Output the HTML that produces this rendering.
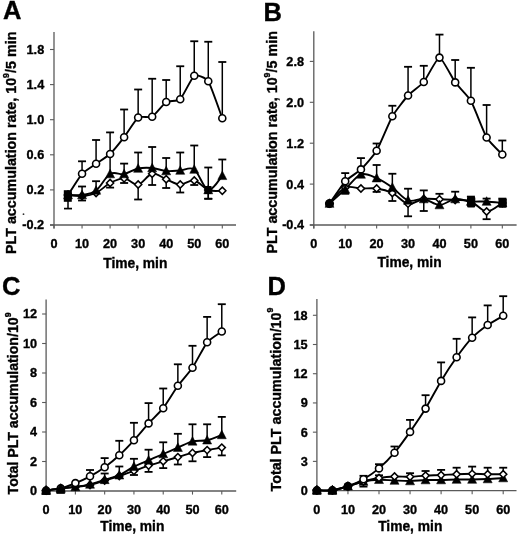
<!DOCTYPE html>
<html><head><meta charset="utf-8"><title>Platelet accumulation</title>
<style>html,body{margin:0;padding:0;background:#fff;width:520px;height:537px;overflow:hidden}
svg{display:block;filter:grayscale(1)}</style></head>
<body><svg width="520" height="537" viewBox="0 0 520 537">
<rect width="520" height="537" fill="#fff"/>
<line x1="54" y1="32" x2="54" y2="228.6" stroke="#5a5a5a" stroke-width="1.3"/>
<line x1="50" y1="225" x2="236" y2="225" stroke="#5a5a5a" stroke-width="1.3"/>
<line x1="54.00" y1="225" x2="54.00" y2="228.6" stroke="#5a5a5a" stroke-width="1.1"/>
<text x="54.00" y="248" font-size="12.7" text-anchor="middle" font-family="&apos;Liberation Sans&apos;, sans-serif" font-weight="bold" stroke="#000" stroke-width="0.35">0</text>
<line x1="82.05" y1="225" x2="82.05" y2="228.6" stroke="#5a5a5a" stroke-width="1.1"/>
<text x="82.05" y="248" font-size="12.7" text-anchor="middle" font-family="&apos;Liberation Sans&apos;, sans-serif" font-weight="bold" stroke="#000" stroke-width="0.35">10</text>
<line x1="110.10" y1="225" x2="110.10" y2="228.6" stroke="#5a5a5a" stroke-width="1.1"/>
<text x="110.10" y="248" font-size="12.7" text-anchor="middle" font-family="&apos;Liberation Sans&apos;, sans-serif" font-weight="bold" stroke="#000" stroke-width="0.35">20</text>
<line x1="138.15" y1="225" x2="138.15" y2="228.6" stroke="#5a5a5a" stroke-width="1.1"/>
<text x="138.15" y="248" font-size="12.7" text-anchor="middle" font-family="&apos;Liberation Sans&apos;, sans-serif" font-weight="bold" stroke="#000" stroke-width="0.35">30</text>
<line x1="166.20" y1="225" x2="166.20" y2="228.6" stroke="#5a5a5a" stroke-width="1.1"/>
<text x="166.20" y="248" font-size="12.7" text-anchor="middle" font-family="&apos;Liberation Sans&apos;, sans-serif" font-weight="bold" stroke="#000" stroke-width="0.35">40</text>
<line x1="194.25" y1="225" x2="194.25" y2="228.6" stroke="#5a5a5a" stroke-width="1.1"/>
<text x="194.25" y="248" font-size="12.7" text-anchor="middle" font-family="&apos;Liberation Sans&apos;, sans-serif" font-weight="bold" stroke="#000" stroke-width="0.35">50</text>
<line x1="222.30" y1="225" x2="222.30" y2="228.6" stroke="#5a5a5a" stroke-width="1.1"/>
<text x="222.30" y="248" font-size="12.7" text-anchor="middle" font-family="&apos;Liberation Sans&apos;, sans-serif" font-weight="bold" stroke="#000" stroke-width="0.35">60</text>
<line x1="50" y1="225.00" x2="54" y2="225.00" stroke="#5a5a5a" stroke-width="1.1"/>
<text x="44.2" y="229.40" font-size="12.7" text-anchor="end" font-family="&apos;Liberation Sans&apos;, sans-serif" font-weight="bold" stroke="#000" stroke-width="0.35">-0.2</text>
<line x1="50" y1="189.90" x2="54" y2="189.90" stroke="#5a5a5a" stroke-width="1.1"/>
<text x="44.2" y="194.30" font-size="12.7" text-anchor="end" font-family="&apos;Liberation Sans&apos;, sans-serif" font-weight="bold" stroke="#000" stroke-width="0.35">0.2</text>
<line x1="50" y1="154.80" x2="54" y2="154.80" stroke="#5a5a5a" stroke-width="1.1"/>
<text x="44.2" y="159.20" font-size="12.7" text-anchor="end" font-family="&apos;Liberation Sans&apos;, sans-serif" font-weight="bold" stroke="#000" stroke-width="0.35">0.6</text>
<line x1="50" y1="119.70" x2="54" y2="119.70" stroke="#5a5a5a" stroke-width="1.1"/>
<text x="44.2" y="124.10" font-size="12.7" text-anchor="end" font-family="&apos;Liberation Sans&apos;, sans-serif" font-weight="bold" stroke="#000" stroke-width="0.35">1.0</text>
<line x1="50" y1="84.60" x2="54" y2="84.60" stroke="#5a5a5a" stroke-width="1.1"/>
<text x="44.2" y="89.00" font-size="12.7" text-anchor="end" font-family="&apos;Liberation Sans&apos;, sans-serif" font-weight="bold" stroke="#000" stroke-width="0.35">1.4</text>
<line x1="50" y1="49.50" x2="54" y2="49.50" stroke="#5a5a5a" stroke-width="1.1"/>
<text x="44.2" y="53.90" font-size="12.7" text-anchor="end" font-family="&apos;Liberation Sans&apos;, sans-serif" font-weight="bold" stroke="#000" stroke-width="0.35">1.8</text>
<text x="135.3" y="267.5" font-size="13.8" text-anchor="middle" font-family="&apos;Liberation Sans&apos;, sans-serif" font-weight="bold" stroke="#000" stroke-width="0.35">Time, min</text>
<text transform="translate(16,254) rotate(-90)" font-size="14.3" font-family="&apos;Liberation Sans&apos;, sans-serif" font-weight="bold" stroke="#000" stroke-width="0.35">PLT accumulation rate, 10<tspan font-size="8.9" dy="-7.2">9</tspan><tspan dy="7.2">/5 min</tspan></text>
<text x="3" y="19" font-size="25.5" font-family="&apos;Liberation Sans&apos;, sans-serif" font-weight="bold" stroke="#000" stroke-width="0.35">A</text>
<line x1="82.05" y1="196.00" x2="82.05" y2="200.50" stroke="#000" stroke-width="1.5"/>
<line x1="78.05" y1="200.50" x2="86.05" y2="200.50" stroke="#000" stroke-width="1.8"/>
<line x1="110.10" y1="183.00" x2="110.10" y2="187.60" stroke="#000" stroke-width="1.5"/>
<line x1="106.10" y1="187.60" x2="114.10" y2="187.60" stroke="#000" stroke-width="1.8"/>
<line x1="124.12" y1="178.40" x2="124.12" y2="183.00" stroke="#000" stroke-width="1.5"/>
<line x1="120.12" y1="183.00" x2="128.12" y2="183.00" stroke="#000" stroke-width="1.8"/>
<line x1="138.15" y1="184.50" x2="138.15" y2="199.50" stroke="#000" stroke-width="1.5"/>
<line x1="134.15" y1="199.50" x2="142.15" y2="199.50" stroke="#000" stroke-width="1.8"/>
<line x1="152.18" y1="173.75" x2="152.18" y2="185.00" stroke="#000" stroke-width="1.5"/>
<line x1="148.18" y1="185.00" x2="156.18" y2="185.00" stroke="#000" stroke-width="1.8"/>
<line x1="166.20" y1="179.25" x2="166.20" y2="188.00" stroke="#000" stroke-width="1.5"/>
<line x1="162.20" y1="188.00" x2="170.20" y2="188.00" stroke="#000" stroke-width="1.8"/>
<line x1="180.23" y1="184.50" x2="180.23" y2="192.50" stroke="#000" stroke-width="1.5"/>
<line x1="176.23" y1="192.50" x2="184.23" y2="192.50" stroke="#000" stroke-width="1.8"/>
<line x1="194.25" y1="180.50" x2="194.25" y2="185.00" stroke="#000" stroke-width="1.5"/>
<line x1="190.25" y1="185.00" x2="198.25" y2="185.00" stroke="#000" stroke-width="1.8"/>
<line x1="208.28" y1="190.00" x2="208.28" y2="198.75" stroke="#000" stroke-width="1.5"/>
<line x1="204.28" y1="198.75" x2="212.28" y2="198.75" stroke="#000" stroke-width="1.8"/>
<line x1="82.05" y1="195.00" x2="82.05" y2="186.50" stroke="#000" stroke-width="1.5"/>
<line x1="78.05" y1="186.50" x2="86.05" y2="186.50" stroke="#000" stroke-width="1.8"/>
<line x1="96.08" y1="190.50" x2="96.08" y2="181.20" stroke="#000" stroke-width="1.5"/>
<line x1="92.08" y1="181.20" x2="100.08" y2="181.20" stroke="#000" stroke-width="1.8"/>
<line x1="110.10" y1="174.00" x2="110.10" y2="153.50" stroke="#000" stroke-width="1.5"/>
<line x1="106.10" y1="153.50" x2="114.10" y2="153.50" stroke="#000" stroke-width="1.8"/>
<line x1="124.12" y1="174.00" x2="124.12" y2="163.60" stroke="#000" stroke-width="1.5"/>
<line x1="120.12" y1="163.60" x2="128.12" y2="163.60" stroke="#000" stroke-width="1.8"/>
<line x1="138.15" y1="168.50" x2="138.15" y2="152.50" stroke="#000" stroke-width="1.5"/>
<line x1="134.15" y1="152.50" x2="142.15" y2="152.50" stroke="#000" stroke-width="1.8"/>
<line x1="152.18" y1="168.00" x2="152.18" y2="147.00" stroke="#000" stroke-width="1.5"/>
<line x1="148.18" y1="147.00" x2="156.18" y2="147.00" stroke="#000" stroke-width="1.8"/>
<line x1="166.20" y1="171.00" x2="166.20" y2="158.00" stroke="#000" stroke-width="1.5"/>
<line x1="162.20" y1="158.00" x2="170.20" y2="158.00" stroke="#000" stroke-width="1.8"/>
<line x1="180.23" y1="170.50" x2="180.23" y2="152.50" stroke="#000" stroke-width="1.5"/>
<line x1="176.23" y1="152.50" x2="184.23" y2="152.50" stroke="#000" stroke-width="1.8"/>
<line x1="194.25" y1="169.50" x2="194.25" y2="145.50" stroke="#000" stroke-width="1.5"/>
<line x1="190.25" y1="145.50" x2="198.25" y2="145.50" stroke="#000" stroke-width="1.8"/>
<line x1="208.28" y1="190.00" x2="208.28" y2="167.50" stroke="#000" stroke-width="1.5"/>
<line x1="204.28" y1="167.50" x2="212.28" y2="167.50" stroke="#000" stroke-width="1.8"/>
<line x1="222.30" y1="175.75" x2="222.30" y2="159.50" stroke="#000" stroke-width="1.5"/>
<line x1="218.30" y1="159.50" x2="226.30" y2="159.50" stroke="#000" stroke-width="1.8"/>
<line x1="82.05" y1="173.80" x2="82.05" y2="161.30" stroke="#000" stroke-width="1.5"/>
<line x1="78.05" y1="161.30" x2="86.05" y2="161.30" stroke="#000" stroke-width="1.8"/>
<line x1="96.08" y1="163.80" x2="96.08" y2="140.00" stroke="#000" stroke-width="1.5"/>
<line x1="92.08" y1="140.00" x2="100.08" y2="140.00" stroke="#000" stroke-width="1.8"/>
<line x1="110.10" y1="154.00" x2="110.10" y2="132.40" stroke="#000" stroke-width="1.5"/>
<line x1="106.10" y1="132.40" x2="114.10" y2="132.40" stroke="#000" stroke-width="1.8"/>
<line x1="124.12" y1="137.20" x2="124.12" y2="109.50" stroke="#000" stroke-width="1.5"/>
<line x1="120.12" y1="109.50" x2="128.12" y2="109.50" stroke="#000" stroke-width="1.8"/>
<line x1="138.15" y1="117.50" x2="138.15" y2="89.50" stroke="#000" stroke-width="1.5"/>
<line x1="134.15" y1="89.50" x2="142.15" y2="89.50" stroke="#000" stroke-width="1.8"/>
<line x1="152.18" y1="116.75" x2="152.18" y2="78.75" stroke="#000" stroke-width="1.5"/>
<line x1="148.18" y1="78.75" x2="156.18" y2="78.75" stroke="#000" stroke-width="1.8"/>
<line x1="166.20" y1="102.00" x2="166.20" y2="80.00" stroke="#000" stroke-width="1.5"/>
<line x1="162.20" y1="80.00" x2="170.20" y2="80.00" stroke="#000" stroke-width="1.8"/>
<line x1="180.23" y1="99.25" x2="180.23" y2="66.25" stroke="#000" stroke-width="1.5"/>
<line x1="176.23" y1="66.25" x2="184.23" y2="66.25" stroke="#000" stroke-width="1.8"/>
<line x1="194.25" y1="75.75" x2="194.25" y2="41.25" stroke="#000" stroke-width="1.5"/>
<line x1="190.25" y1="41.25" x2="198.25" y2="41.25" stroke="#000" stroke-width="1.8"/>
<line x1="208.28" y1="81.25" x2="208.28" y2="41.75" stroke="#000" stroke-width="1.5"/>
<line x1="204.28" y1="41.75" x2="212.28" y2="41.75" stroke="#000" stroke-width="1.8"/>
<line x1="222.30" y1="118.25" x2="222.30" y2="62.00" stroke="#000" stroke-width="1.5"/>
<line x1="218.30" y1="62.00" x2="226.30" y2="62.00" stroke="#000" stroke-width="1.8"/>
<path d="M68.03,195.00 C70.36,195.17 77.38,196.33 82.05,196.00 C86.72,195.67 91.40,195.17 96.08,193.00 C100.75,190.83 105.42,185.43 110.10,183.00 C114.77,180.57 119.45,178.15 124.12,178.40 C128.80,178.65 133.47,185.28 138.15,184.50 C142.83,183.72 147.50,174.62 152.18,173.75 C156.85,172.88 161.52,177.46 166.20,179.25 C170.88,181.04 175.55,184.29 180.23,184.50 C184.90,184.71 189.57,179.58 194.25,180.50 C198.93,181.42 203.60,188.29 208.28,190.00 C212.95,191.71 219.96,190.62 222.30,190.75" fill="none" stroke="#000" stroke-width="1.9" stroke-linejoin="round"/>
<path d="M68.03,195.00 C70.36,195.00 77.38,195.75 82.05,195.00 C86.72,194.25 91.40,194.00 96.08,190.50 C100.75,187.00 105.42,176.75 110.10,174.00 C114.77,171.25 119.45,174.92 124.12,174.00 C128.80,173.08 133.47,169.50 138.15,168.50 C142.83,167.50 147.50,167.58 152.18,168.00 C156.85,168.42 161.52,170.58 166.20,171.00 C170.88,171.42 175.55,170.75 180.23,170.50 C184.90,170.25 189.57,166.25 194.25,169.50 C198.93,172.75 203.60,188.96 208.28,190.00 C212.95,191.04 219.96,178.12 222.30,175.75" fill="none" stroke="#000" stroke-width="1.9" stroke-linejoin="round"/>
<path d="M68.03,195.00 C69.19,193.23 79.71,176.40 82.05,173.80 C84.39,171.20 93.74,165.45 96.08,163.80 C98.41,162.15 107.76,156.22 110.10,154.00 C112.44,151.78 121.79,140.24 124.12,137.20 C126.46,134.16 135.81,119.20 138.15,117.50 C140.49,115.80 149.84,118.04 152.18,116.75 C154.51,115.46 163.86,103.46 166.20,102.00 C168.54,100.54 177.89,101.44 180.23,99.25 C182.56,97.06 191.91,77.25 194.25,75.75 C196.59,74.25 205.94,77.71 208.28,81.25 C210.61,84.79 221.13,115.17 222.30,118.25" fill="none" stroke="#000" stroke-width="1.9" stroke-linejoin="round"/>
<path d="M68.03,191.40 L71.62,195.00 L68.03,198.60 L64.43,195.00Z" fill="#fff" stroke="#000" stroke-width="1.5"/>
<path d="M82.05,192.40 L85.65,196.00 L82.05,199.60 L78.45,196.00Z" fill="#fff" stroke="#000" stroke-width="1.5"/>
<path d="M96.08,189.40 L99.67,193.00 L96.08,196.60 L92.48,193.00Z" fill="#fff" stroke="#000" stroke-width="1.5"/>
<path d="M110.10,179.40 L113.70,183.00 L110.10,186.60 L106.50,183.00Z" fill="#fff" stroke="#000" stroke-width="1.5"/>
<path d="M124.12,174.80 L127.72,178.40 L124.12,182.00 L120.53,178.40Z" fill="#fff" stroke="#000" stroke-width="1.5"/>
<path d="M138.15,180.90 L141.75,184.50 L138.15,188.10 L134.55,184.50Z" fill="#fff" stroke="#000" stroke-width="1.5"/>
<path d="M152.18,170.15 L155.78,173.75 L152.18,177.35 L148.58,173.75Z" fill="#fff" stroke="#000" stroke-width="1.5"/>
<path d="M166.20,175.65 L169.80,179.25 L166.20,182.85 L162.60,179.25Z" fill="#fff" stroke="#000" stroke-width="1.5"/>
<path d="M180.23,180.90 L183.83,184.50 L180.23,188.10 L176.63,184.50Z" fill="#fff" stroke="#000" stroke-width="1.5"/>
<path d="M194.25,176.90 L197.85,180.50 L194.25,184.10 L190.65,180.50Z" fill="#fff" stroke="#000" stroke-width="1.5"/>
<path d="M208.28,186.40 L211.88,190.00 L208.28,193.60 L204.68,190.00Z" fill="#fff" stroke="#000" stroke-width="1.5"/>
<path d="M222.30,187.15 L225.90,190.75 L222.30,194.35 L218.70,190.75Z" fill="#fff" stroke="#000" stroke-width="1.5"/>
<path d="M68.03,190.20 L72.53,198.84 L63.53,198.84Z" fill="#000" stroke="#000" stroke-width="0.5"/>
<path d="M82.05,190.20 L86.55,198.84 L77.55,198.84Z" fill="#000" stroke="#000" stroke-width="0.5"/>
<path d="M96.08,185.70 L100.58,194.34 L91.58,194.34Z" fill="#000" stroke="#000" stroke-width="0.5"/>
<path d="M110.10,169.20 L114.60,177.84 L105.60,177.84Z" fill="#000" stroke="#000" stroke-width="0.5"/>
<path d="M124.12,169.20 L128.62,177.84 L119.62,177.84Z" fill="#000" stroke="#000" stroke-width="0.5"/>
<path d="M138.15,163.70 L142.65,172.34 L133.65,172.34Z" fill="#000" stroke="#000" stroke-width="0.5"/>
<path d="M152.18,163.20 L156.68,171.84 L147.68,171.84Z" fill="#000" stroke="#000" stroke-width="0.5"/>
<path d="M166.20,166.20 L170.70,174.84 L161.70,174.84Z" fill="#000" stroke="#000" stroke-width="0.5"/>
<path d="M180.23,165.70 L184.73,174.34 L175.73,174.34Z" fill="#000" stroke="#000" stroke-width="0.5"/>
<path d="M194.25,164.70 L198.75,173.34 L189.75,173.34Z" fill="#000" stroke="#000" stroke-width="0.5"/>
<path d="M208.28,185.20 L212.78,193.84 L203.78,193.84Z" fill="#000" stroke="#000" stroke-width="0.5"/>
<path d="M222.30,170.95 L226.80,179.59 L217.80,179.59Z" fill="#000" stroke="#000" stroke-width="0.5"/>
<circle cx="68.03" cy="195.00" r="3.5" fill="#fff" stroke="#000" stroke-width="1.6"/>
<circle cx="82.05" cy="173.80" r="3.5" fill="#fff" stroke="#000" stroke-width="1.6"/>
<circle cx="96.08" cy="163.80" r="3.5" fill="#fff" stroke="#000" stroke-width="1.6"/>
<circle cx="110.10" cy="154.00" r="3.5" fill="#fff" stroke="#000" stroke-width="1.6"/>
<circle cx="124.12" cy="137.20" r="3.5" fill="#fff" stroke="#000" stroke-width="1.6"/>
<circle cx="138.15" cy="117.50" r="3.5" fill="#fff" stroke="#000" stroke-width="1.6"/>
<circle cx="152.18" cy="116.75" r="3.5" fill="#fff" stroke="#000" stroke-width="1.6"/>
<circle cx="166.20" cy="102.00" r="3.5" fill="#fff" stroke="#000" stroke-width="1.6"/>
<circle cx="180.23" cy="99.25" r="3.5" fill="#fff" stroke="#000" stroke-width="1.6"/>
<circle cx="194.25" cy="75.75" r="3.5" fill="#fff" stroke="#000" stroke-width="1.6"/>
<circle cx="208.28" cy="81.25" r="3.5" fill="#fff" stroke="#000" stroke-width="1.6"/>
<circle cx="222.30" cy="118.25" r="3.5" fill="#fff" stroke="#000" stroke-width="1.6"/>
<rect x="63.8" y="190.2" width="8" height="11.6" fill="#000"/>
<line x1="68" y1="201" x2="68" y2="208.6" stroke="#000" stroke-width="1.5"/>
<line x1="64" y1="208.6" x2="72" y2="208.6" stroke="#000" stroke-width="1.7"/>
<rect x="204.5" y="186" width="7" height="8" fill="#000"/>
<line x1="208.3" y1="190" x2="208.3" y2="198.75" stroke="#000" stroke-width="1.5"/>
<line x1="204.3" y1="198.75" x2="212.3" y2="198.75" stroke="#000" stroke-width="1.7"/>
<circle cx="23.5" cy="214.2" r="0.9" fill="#333"/>
<line x1="313.8" y1="31.3" x2="313.8" y2="228.6" stroke="#5a5a5a" stroke-width="1.3"/>
<line x1="309.8" y1="225" x2="516.6" y2="225" stroke="#5a5a5a" stroke-width="1.3"/>
<line x1="313.80" y1="225" x2="313.80" y2="228.6" stroke="#5a5a5a" stroke-width="1.1"/>
<text x="313.80" y="247.5" font-size="12.7" text-anchor="middle" font-family="&apos;Liberation Sans&apos;, sans-serif" font-weight="bold" stroke="#000" stroke-width="0.35">0</text>
<line x1="345.22" y1="225" x2="345.22" y2="228.6" stroke="#5a5a5a" stroke-width="1.1"/>
<text x="345.22" y="247.5" font-size="12.7" text-anchor="middle" font-family="&apos;Liberation Sans&apos;, sans-serif" font-weight="bold" stroke="#000" stroke-width="0.35">10</text>
<line x1="376.64" y1="225" x2="376.64" y2="228.6" stroke="#5a5a5a" stroke-width="1.1"/>
<text x="376.64" y="247.5" font-size="12.7" text-anchor="middle" font-family="&apos;Liberation Sans&apos;, sans-serif" font-weight="bold" stroke="#000" stroke-width="0.35">20</text>
<line x1="408.06" y1="225" x2="408.06" y2="228.6" stroke="#5a5a5a" stroke-width="1.1"/>
<text x="408.06" y="247.5" font-size="12.7" text-anchor="middle" font-family="&apos;Liberation Sans&apos;, sans-serif" font-weight="bold" stroke="#000" stroke-width="0.35">30</text>
<line x1="439.48" y1="225" x2="439.48" y2="228.6" stroke="#5a5a5a" stroke-width="1.1"/>
<text x="439.48" y="247.5" font-size="12.7" text-anchor="middle" font-family="&apos;Liberation Sans&apos;, sans-serif" font-weight="bold" stroke="#000" stroke-width="0.35">40</text>
<line x1="470.90" y1="225" x2="470.90" y2="228.6" stroke="#5a5a5a" stroke-width="1.1"/>
<text x="470.90" y="247.5" font-size="12.7" text-anchor="middle" font-family="&apos;Liberation Sans&apos;, sans-serif" font-weight="bold" stroke="#000" stroke-width="0.35">50</text>
<line x1="502.32" y1="225" x2="502.32" y2="228.6" stroke="#5a5a5a" stroke-width="1.1"/>
<text x="502.32" y="247.5" font-size="12.7" text-anchor="middle" font-family="&apos;Liberation Sans&apos;, sans-serif" font-weight="bold" stroke="#000" stroke-width="0.35">60</text>
<line x1="309.8" y1="225.00" x2="313.8" y2="225.00" stroke="#5a5a5a" stroke-width="1.1"/>
<text x="304" y="229.40" font-size="12.7" text-anchor="end" font-family="&apos;Liberation Sans&apos;, sans-serif" font-weight="bold" stroke="#000" stroke-width="0.35">-0.4</text>
<line x1="309.8" y1="184.10" x2="313.8" y2="184.10" stroke="#5a5a5a" stroke-width="1.1"/>
<text x="304" y="188.50" font-size="12.7" text-anchor="end" font-family="&apos;Liberation Sans&apos;, sans-serif" font-weight="bold" stroke="#000" stroke-width="0.35">0.4</text>
<line x1="309.8" y1="143.20" x2="313.8" y2="143.20" stroke="#5a5a5a" stroke-width="1.1"/>
<text x="304" y="147.60" font-size="12.7" text-anchor="end" font-family="&apos;Liberation Sans&apos;, sans-serif" font-weight="bold" stroke="#000" stroke-width="0.35">1.2</text>
<line x1="309.8" y1="102.30" x2="313.8" y2="102.30" stroke="#5a5a5a" stroke-width="1.1"/>
<text x="304" y="106.70" font-size="12.7" text-anchor="end" font-family="&apos;Liberation Sans&apos;, sans-serif" font-weight="bold" stroke="#000" stroke-width="0.35">2.0</text>
<line x1="309.8" y1="61.40" x2="313.8" y2="61.40" stroke="#5a5a5a" stroke-width="1.1"/>
<text x="304" y="65.80" font-size="12.7" text-anchor="end" font-family="&apos;Liberation Sans&apos;, sans-serif" font-weight="bold" stroke="#000" stroke-width="0.35">2.8</text>
<text x="409.5" y="267.3" font-size="13.8" text-anchor="middle" font-family="&apos;Liberation Sans&apos;, sans-serif" font-weight="bold" stroke="#000" stroke-width="0.35">Time, min</text>
<text transform="translate(277,253.5) rotate(-90)" font-size="14.3" font-family="&apos;Liberation Sans&apos;, sans-serif" font-weight="bold" stroke="#000" stroke-width="0.35">PLT accumulation rate, 10<tspan font-size="8.9" dy="-7.2">9</tspan><tspan dy="7.2">/5 min</tspan></text>
<text x="263.5" y="20.6" font-size="25.5" font-family="&apos;Liberation Sans&apos;, sans-serif" font-weight="bold" stroke="#000" stroke-width="0.35">B</text>
<line x1="376.64" y1="188.50" x2="376.64" y2="191.90" stroke="#000" stroke-width="1.5"/>
<line x1="372.64" y1="191.90" x2="380.64" y2="191.90" stroke="#000" stroke-width="1.8"/>
<line x1="392.35" y1="193.00" x2="392.35" y2="201.00" stroke="#000" stroke-width="1.5"/>
<line x1="388.35" y1="201.00" x2="396.35" y2="201.00" stroke="#000" stroke-width="1.8"/>
<line x1="408.06" y1="203.70" x2="408.06" y2="216.30" stroke="#000" stroke-width="1.5"/>
<line x1="404.06" y1="216.30" x2="412.06" y2="216.30" stroke="#000" stroke-width="1.8"/>
<line x1="423.77" y1="199.00" x2="423.77" y2="211.00" stroke="#000" stroke-width="1.5"/>
<line x1="419.77" y1="211.00" x2="427.77" y2="211.00" stroke="#000" stroke-width="1.8"/>
<line x1="486.61" y1="211.50" x2="486.61" y2="219.20" stroke="#000" stroke-width="1.5"/>
<line x1="482.61" y1="219.20" x2="490.61" y2="219.20" stroke="#000" stroke-width="1.8"/>
<line x1="345.22" y1="189.40" x2="345.22" y2="193.80" stroke="#000" stroke-width="1.5"/>
<line x1="341.22" y1="193.80" x2="349.22" y2="193.80" stroke="#000" stroke-width="1.8"/>
<line x1="376.64" y1="178.10" x2="376.64" y2="165.00" stroke="#000" stroke-width="1.5"/>
<line x1="372.64" y1="165.00" x2="380.64" y2="165.00" stroke="#000" stroke-width="1.8"/>
<line x1="392.35" y1="187.50" x2="392.35" y2="173.75" stroke="#000" stroke-width="1.5"/>
<line x1="388.35" y1="173.75" x2="396.35" y2="173.75" stroke="#000" stroke-width="1.8"/>
<line x1="408.06" y1="200.40" x2="408.06" y2="188.70" stroke="#000" stroke-width="1.5"/>
<line x1="404.06" y1="188.70" x2="412.06" y2="188.70" stroke="#000" stroke-width="1.8"/>
<line x1="423.77" y1="199.00" x2="423.77" y2="190.40" stroke="#000" stroke-width="1.5"/>
<line x1="419.77" y1="190.40" x2="427.77" y2="190.40" stroke="#000" stroke-width="1.8"/>
<line x1="439.48" y1="205.00" x2="439.48" y2="193.80" stroke="#000" stroke-width="1.5"/>
<line x1="435.48" y1="193.80" x2="443.48" y2="193.80" stroke="#000" stroke-width="1.8"/>
<line x1="455.19" y1="199.00" x2="455.19" y2="191.70" stroke="#000" stroke-width="1.5"/>
<line x1="451.19" y1="191.70" x2="459.19" y2="191.70" stroke="#000" stroke-width="1.8"/>
<line x1="470.90" y1="201.50" x2="470.90" y2="196.60" stroke="#000" stroke-width="1.5"/>
<line x1="466.90" y1="196.60" x2="474.90" y2="196.60" stroke="#000" stroke-width="1.8"/>
<line x1="486.61" y1="201.50" x2="486.61" y2="198.60" stroke="#000" stroke-width="1.5"/>
<line x1="482.61" y1="198.60" x2="490.61" y2="198.60" stroke="#000" stroke-width="1.8"/>
<line x1="502.32" y1="203.00" x2="502.32" y2="198.60" stroke="#000" stroke-width="1.5"/>
<line x1="498.32" y1="198.60" x2="506.32" y2="198.60" stroke="#000" stroke-width="1.8"/>
<line x1="345.22" y1="181.30" x2="345.22" y2="173.10" stroke="#000" stroke-width="1.5"/>
<line x1="341.22" y1="173.10" x2="349.22" y2="173.10" stroke="#000" stroke-width="1.8"/>
<line x1="360.93" y1="169.40" x2="360.93" y2="158.10" stroke="#000" stroke-width="1.5"/>
<line x1="356.93" y1="158.10" x2="364.93" y2="158.10" stroke="#000" stroke-width="1.8"/>
<line x1="376.64" y1="150.80" x2="376.64" y2="143.50" stroke="#000" stroke-width="1.5"/>
<line x1="372.64" y1="143.50" x2="380.64" y2="143.50" stroke="#000" stroke-width="1.8"/>
<line x1="392.35" y1="116.25" x2="392.35" y2="105.75" stroke="#000" stroke-width="1.5"/>
<line x1="388.35" y1="105.75" x2="396.35" y2="105.75" stroke="#000" stroke-width="1.8"/>
<line x1="408.06" y1="95.50" x2="408.06" y2="66.80" stroke="#000" stroke-width="1.5"/>
<line x1="404.06" y1="66.80" x2="412.06" y2="66.80" stroke="#000" stroke-width="1.8"/>
<line x1="423.77" y1="82.00" x2="423.77" y2="65.80" stroke="#000" stroke-width="1.5"/>
<line x1="419.77" y1="65.80" x2="427.77" y2="65.80" stroke="#000" stroke-width="1.8"/>
<line x1="439.48" y1="57.60" x2="439.48" y2="34.60" stroke="#000" stroke-width="1.5"/>
<line x1="435.48" y1="34.60" x2="443.48" y2="34.60" stroke="#000" stroke-width="1.8"/>
<line x1="455.19" y1="82.40" x2="455.19" y2="60.00" stroke="#000" stroke-width="1.5"/>
<line x1="451.19" y1="60.00" x2="459.19" y2="60.00" stroke="#000" stroke-width="1.8"/>
<line x1="470.90" y1="100.80" x2="470.90" y2="67.80" stroke="#000" stroke-width="1.5"/>
<line x1="466.90" y1="67.80" x2="474.90" y2="67.80" stroke="#000" stroke-width="1.8"/>
<line x1="486.61" y1="137.50" x2="486.61" y2="105.00" stroke="#000" stroke-width="1.5"/>
<line x1="482.61" y1="105.00" x2="490.61" y2="105.00" stroke="#000" stroke-width="1.8"/>
<line x1="502.32" y1="154.50" x2="502.32" y2="140.50" stroke="#000" stroke-width="1.5"/>
<line x1="498.32" y1="140.50" x2="506.32" y2="140.50" stroke="#000" stroke-width="1.8"/>
<path d="M329.51,203.50 C332.13,200.87 339.98,190.20 345.22,187.70 C350.46,185.20 355.69,188.37 360.93,188.50 C366.17,188.63 371.40,187.75 376.64,188.50 C381.88,189.25 387.11,190.47 392.35,193.00 C397.59,195.53 402.82,202.70 408.06,203.70 C413.30,204.70 418.53,199.73 423.77,199.00 C429.01,198.27 434.24,199.13 439.48,199.30 C444.72,199.47 449.95,199.63 455.19,200.00 C460.43,200.37 465.66,199.58 470.90,201.50 C476.14,203.42 481.37,211.25 486.61,211.50 C491.85,211.75 499.70,204.42 502.32,203.00" fill="none" stroke="#000" stroke-width="1.9" stroke-linejoin="round"/>
<path d="M329.51,203.50 C332.13,201.15 339.98,194.25 345.22,189.40 C350.46,184.55 355.69,176.28 360.93,174.40 C366.17,172.52 371.40,175.92 376.64,178.10 C381.88,180.28 387.11,183.78 392.35,187.50 C397.59,191.22 402.82,198.48 408.06,200.40 C413.30,202.32 418.53,198.23 423.77,199.00 C429.01,199.77 434.24,205.00 439.48,205.00 C444.72,205.00 449.95,199.58 455.19,199.00 C460.43,198.42 465.66,201.08 470.90,201.50 C476.14,201.92 481.37,201.25 486.61,201.50 C491.85,201.75 499.70,202.75 502.32,203.00" fill="none" stroke="#000" stroke-width="1.9" stroke-linejoin="round"/>
<path d="M329.51,203.50 C330.82,201.65 342.60,184.14 345.22,181.30 C347.84,178.46 358.31,171.94 360.93,169.40 C363.55,166.86 374.02,155.23 376.64,150.80 C379.26,146.37 389.73,120.86 392.35,116.25 C394.97,111.64 405.44,98.35 408.06,95.50 C410.68,92.65 421.15,85.16 423.77,82.00 C426.39,78.84 436.86,57.57 439.48,57.60 C442.10,57.63 452.57,78.80 455.19,82.40 C457.81,86.00 468.28,96.21 470.90,100.80 C473.52,105.39 483.99,133.03 486.61,137.50 C489.23,141.97 501.01,153.08 502.32,154.50" fill="none" stroke="#000" stroke-width="1.9" stroke-linejoin="round"/>
<path d="M329.51,199.90 L333.11,203.50 L329.51,207.10 L325.91,203.50Z" fill="#fff" stroke="#000" stroke-width="1.5"/>
<path d="M345.22,184.10 L348.82,187.70 L345.22,191.30 L341.62,187.70Z" fill="#fff" stroke="#000" stroke-width="1.5"/>
<path d="M360.93,184.90 L364.53,188.50 L360.93,192.10 L357.33,188.50Z" fill="#fff" stroke="#000" stroke-width="1.5"/>
<path d="M376.64,184.90 L380.24,188.50 L376.64,192.10 L373.04,188.50Z" fill="#fff" stroke="#000" stroke-width="1.5"/>
<path d="M392.35,189.40 L395.95,193.00 L392.35,196.60 L388.75,193.00Z" fill="#fff" stroke="#000" stroke-width="1.5"/>
<path d="M408.06,200.10 L411.66,203.70 L408.06,207.30 L404.46,203.70Z" fill="#fff" stroke="#000" stroke-width="1.5"/>
<path d="M423.77,195.40 L427.37,199.00 L423.77,202.60 L420.17,199.00Z" fill="#fff" stroke="#000" stroke-width="1.5"/>
<path d="M439.48,195.70 L443.08,199.30 L439.48,202.90 L435.88,199.30Z" fill="#fff" stroke="#000" stroke-width="1.5"/>
<path d="M455.19,196.40 L458.79,200.00 L455.19,203.60 L451.59,200.00Z" fill="#fff" stroke="#000" stroke-width="1.5"/>
<path d="M470.90,197.90 L474.50,201.50 L470.90,205.10 L467.30,201.50Z" fill="#fff" stroke="#000" stroke-width="1.5"/>
<path d="M486.61,207.90 L490.21,211.50 L486.61,215.10 L483.01,211.50Z" fill="#fff" stroke="#000" stroke-width="1.5"/>
<path d="M502.32,199.40 L505.92,203.00 L502.32,206.60 L498.72,203.00Z" fill="#fff" stroke="#000" stroke-width="1.5"/>
<path d="M329.51,198.70 L334.01,207.34 L325.01,207.34Z" fill="#000" stroke="#000" stroke-width="0.5"/>
<path d="M345.22,184.60 L349.72,193.24 L340.72,193.24Z" fill="#000" stroke="#000" stroke-width="0.5"/>
<path d="M360.93,169.60 L365.43,178.24 L356.43,178.24Z" fill="#000" stroke="#000" stroke-width="0.5"/>
<path d="M376.64,173.30 L381.14,181.94 L372.14,181.94Z" fill="#000" stroke="#000" stroke-width="0.5"/>
<path d="M392.35,182.70 L396.85,191.34 L387.85,191.34Z" fill="#000" stroke="#000" stroke-width="0.5"/>
<path d="M408.06,195.60 L412.56,204.24 L403.56,204.24Z" fill="#000" stroke="#000" stroke-width="0.5"/>
<path d="M423.77,194.20 L428.27,202.84 L419.27,202.84Z" fill="#000" stroke="#000" stroke-width="0.5"/>
<path d="M439.48,200.20 L443.98,208.84 L434.98,208.84Z" fill="#000" stroke="#000" stroke-width="0.5"/>
<path d="M455.19,194.20 L459.69,202.84 L450.69,202.84Z" fill="#000" stroke="#000" stroke-width="0.5"/>
<path d="M470.90,196.70 L475.40,205.34 L466.40,205.34Z" fill="#000" stroke="#000" stroke-width="0.5"/>
<path d="M486.61,196.70 L491.11,205.34 L482.11,205.34Z" fill="#000" stroke="#000" stroke-width="0.5"/>
<path d="M502.32,198.20 L506.82,206.84 L497.82,206.84Z" fill="#000" stroke="#000" stroke-width="0.5"/>
<circle cx="329.51" cy="203.50" r="3.5" fill="#fff" stroke="#000" stroke-width="1.6"/>
<circle cx="345.22" cy="181.30" r="3.5" fill="#fff" stroke="#000" stroke-width="1.6"/>
<circle cx="360.93" cy="169.40" r="3.5" fill="#fff" stroke="#000" stroke-width="1.6"/>
<circle cx="376.64" cy="150.80" r="3.5" fill="#fff" stroke="#000" stroke-width="1.6"/>
<circle cx="392.35" cy="116.25" r="3.5" fill="#fff" stroke="#000" stroke-width="1.6"/>
<circle cx="408.06" cy="95.50" r="3.5" fill="#fff" stroke="#000" stroke-width="1.6"/>
<circle cx="423.77" cy="82.00" r="3.5" fill="#fff" stroke="#000" stroke-width="1.6"/>
<circle cx="439.48" cy="57.60" r="3.5" fill="#fff" stroke="#000" stroke-width="1.6"/>
<circle cx="455.19" cy="82.40" r="3.5" fill="#fff" stroke="#000" stroke-width="1.6"/>
<circle cx="470.90" cy="100.80" r="3.5" fill="#fff" stroke="#000" stroke-width="1.6"/>
<circle cx="486.61" cy="137.50" r="3.5" fill="#fff" stroke="#000" stroke-width="1.6"/>
<circle cx="502.32" cy="154.50" r="3.5" fill="#fff" stroke="#000" stroke-width="1.6"/>
<circle cx="329.4" cy="203.7" r="4.4" fill="#000"/>
<rect x="467" y="196.5" width="8.3" height="11" rx="1.5" fill="#000"/>
<rect x="498.5" y="197.9" width="8.3" height="9.9" rx="1.5" fill="#000"/>
<line x1="46.1" y1="299.4" x2="46.1" y2="494.6" stroke="#5a5a5a" stroke-width="1.3"/>
<line x1="42.1" y1="491" x2="236.2" y2="491" stroke="#5a5a5a" stroke-width="1.3"/>
<line x1="46.10" y1="491" x2="46.10" y2="494.6" stroke="#5a5a5a" stroke-width="1.1"/>
<text x="46.10" y="514.2" font-size="12.7" text-anchor="middle" font-family="&apos;Liberation Sans&apos;, sans-serif" font-weight="bold" stroke="#000" stroke-width="0.35">0</text>
<line x1="75.38" y1="491" x2="75.38" y2="494.6" stroke="#5a5a5a" stroke-width="1.1"/>
<text x="75.38" y="514.2" font-size="12.7" text-anchor="middle" font-family="&apos;Liberation Sans&apos;, sans-serif" font-weight="bold" stroke="#000" stroke-width="0.35">10</text>
<line x1="104.66" y1="491" x2="104.66" y2="494.6" stroke="#5a5a5a" stroke-width="1.1"/>
<text x="104.66" y="514.2" font-size="12.7" text-anchor="middle" font-family="&apos;Liberation Sans&apos;, sans-serif" font-weight="bold" stroke="#000" stroke-width="0.35">20</text>
<line x1="133.94" y1="491" x2="133.94" y2="494.6" stroke="#5a5a5a" stroke-width="1.1"/>
<text x="133.94" y="514.2" font-size="12.7" text-anchor="middle" font-family="&apos;Liberation Sans&apos;, sans-serif" font-weight="bold" stroke="#000" stroke-width="0.35">30</text>
<line x1="163.22" y1="491" x2="163.22" y2="494.6" stroke="#5a5a5a" stroke-width="1.1"/>
<text x="163.22" y="514.2" font-size="12.7" text-anchor="middle" font-family="&apos;Liberation Sans&apos;, sans-serif" font-weight="bold" stroke="#000" stroke-width="0.35">40</text>
<line x1="192.50" y1="491" x2="192.50" y2="494.6" stroke="#5a5a5a" stroke-width="1.1"/>
<text x="192.50" y="514.2" font-size="12.7" text-anchor="middle" font-family="&apos;Liberation Sans&apos;, sans-serif" font-weight="bold" stroke="#000" stroke-width="0.35">50</text>
<line x1="221.78" y1="491" x2="221.78" y2="494.6" stroke="#5a5a5a" stroke-width="1.1"/>
<text x="221.78" y="514.2" font-size="12.7" text-anchor="middle" font-family="&apos;Liberation Sans&apos;, sans-serif" font-weight="bold" stroke="#000" stroke-width="0.35">60</text>
<line x1="42.1" y1="491.00" x2="46.1" y2="491.00" stroke="#5a5a5a" stroke-width="1.1"/>
<text x="37" y="495.40" font-size="12.7" text-anchor="end" font-family="&apos;Liberation Sans&apos;, sans-serif" font-weight="bold" stroke="#000" stroke-width="0.35">0</text>
<line x1="42.1" y1="461.50" x2="46.1" y2="461.50" stroke="#5a5a5a" stroke-width="1.1"/>
<text x="37" y="465.90" font-size="12.7" text-anchor="end" font-family="&apos;Liberation Sans&apos;, sans-serif" font-weight="bold" stroke="#000" stroke-width="0.35">2</text>
<line x1="42.1" y1="432.00" x2="46.1" y2="432.00" stroke="#5a5a5a" stroke-width="1.1"/>
<text x="37" y="436.40" font-size="12.7" text-anchor="end" font-family="&apos;Liberation Sans&apos;, sans-serif" font-weight="bold" stroke="#000" stroke-width="0.35">4</text>
<line x1="42.1" y1="402.50" x2="46.1" y2="402.50" stroke="#5a5a5a" stroke-width="1.1"/>
<text x="37" y="406.90" font-size="12.7" text-anchor="end" font-family="&apos;Liberation Sans&apos;, sans-serif" font-weight="bold" stroke="#000" stroke-width="0.35">6</text>
<line x1="42.1" y1="373.00" x2="46.1" y2="373.00" stroke="#5a5a5a" stroke-width="1.1"/>
<text x="37" y="377.40" font-size="12.7" text-anchor="end" font-family="&apos;Liberation Sans&apos;, sans-serif" font-weight="bold" stroke="#000" stroke-width="0.35">8</text>
<line x1="42.1" y1="343.50" x2="46.1" y2="343.50" stroke="#5a5a5a" stroke-width="1.1"/>
<text x="37" y="347.90" font-size="12.7" text-anchor="end" font-family="&apos;Liberation Sans&apos;, sans-serif" font-weight="bold" stroke="#000" stroke-width="0.35">10</text>
<line x1="42.1" y1="314.00" x2="46.1" y2="314.00" stroke="#5a5a5a" stroke-width="1.1"/>
<text x="37" y="318.40" font-size="12.7" text-anchor="end" font-family="&apos;Liberation Sans&apos;, sans-serif" font-weight="bold" stroke="#000" stroke-width="0.35">12</text>
<text x="132.3" y="531.3" font-size="13.8" text-anchor="middle" font-family="&apos;Liberation Sans&apos;, sans-serif" font-weight="bold" stroke="#000" stroke-width="0.35">Time, min</text>
<text transform="translate(17.7,494.4) rotate(-90)" font-size="14.15" font-family="&apos;Liberation Sans&apos;, sans-serif" font-weight="bold" stroke="#000" stroke-width="0.35">Total PLT accumulation/10<tspan font-size="8.8" dy="-7.1">9</tspan><tspan dy="7.1"></tspan></text>
<text x="2" y="295" font-size="25.5" font-family="&apos;Liberation Sans&apos;, sans-serif" font-weight="bold" stroke="#000" stroke-width="0.35">C</text>
<line x1="133.94" y1="470.90" x2="133.94" y2="475.00" stroke="#000" stroke-width="1.5"/>
<line x1="129.94" y1="475.00" x2="137.94" y2="475.00" stroke="#000" stroke-width="1.8"/>
<line x1="148.58" y1="465.60" x2="148.58" y2="471.90" stroke="#000" stroke-width="1.5"/>
<line x1="144.58" y1="471.90" x2="152.58" y2="471.90" stroke="#000" stroke-width="1.8"/>
<line x1="163.22" y1="461.30" x2="163.22" y2="468.10" stroke="#000" stroke-width="1.5"/>
<line x1="159.22" y1="468.10" x2="167.22" y2="468.10" stroke="#000" stroke-width="1.8"/>
<line x1="177.86" y1="457.10" x2="177.86" y2="464.50" stroke="#000" stroke-width="1.5"/>
<line x1="173.86" y1="464.50" x2="181.86" y2="464.50" stroke="#000" stroke-width="1.8"/>
<line x1="192.50" y1="452.90" x2="192.50" y2="461.30" stroke="#000" stroke-width="1.5"/>
<line x1="188.50" y1="461.30" x2="196.50" y2="461.30" stroke="#000" stroke-width="1.8"/>
<line x1="207.14" y1="450.10" x2="207.14" y2="457.10" stroke="#000" stroke-width="1.5"/>
<line x1="203.14" y1="457.10" x2="211.14" y2="457.10" stroke="#000" stroke-width="1.8"/>
<line x1="221.78" y1="447.60" x2="221.78" y2="455.40" stroke="#000" stroke-width="1.5"/>
<line x1="217.78" y1="455.40" x2="225.78" y2="455.40" stroke="#000" stroke-width="1.8"/>
<line x1="104.66" y1="479.80" x2="104.66" y2="473.50" stroke="#000" stroke-width="1.5"/>
<line x1="100.66" y1="473.50" x2="108.66" y2="473.50" stroke="#000" stroke-width="1.8"/>
<line x1="119.30" y1="475.20" x2="119.30" y2="466.50" stroke="#000" stroke-width="1.5"/>
<line x1="115.30" y1="466.50" x2="123.30" y2="466.50" stroke="#000" stroke-width="1.8"/>
<line x1="133.94" y1="466.60" x2="133.94" y2="458.80" stroke="#000" stroke-width="1.5"/>
<line x1="129.94" y1="458.80" x2="137.94" y2="458.80" stroke="#000" stroke-width="1.8"/>
<line x1="148.58" y1="460.30" x2="148.58" y2="449.70" stroke="#000" stroke-width="1.5"/>
<line x1="144.58" y1="449.70" x2="152.58" y2="449.70" stroke="#000" stroke-width="1.8"/>
<line x1="163.22" y1="454.00" x2="163.22" y2="442.30" stroke="#000" stroke-width="1.5"/>
<line x1="159.22" y1="442.30" x2="167.22" y2="442.30" stroke="#000" stroke-width="1.8"/>
<line x1="177.86" y1="447.60" x2="177.86" y2="433.80" stroke="#000" stroke-width="1.5"/>
<line x1="173.86" y1="433.80" x2="181.86" y2="433.80" stroke="#000" stroke-width="1.8"/>
<line x1="192.50" y1="441.30" x2="192.50" y2="424.30" stroke="#000" stroke-width="1.5"/>
<line x1="188.50" y1="424.30" x2="196.50" y2="424.30" stroke="#000" stroke-width="1.8"/>
<line x1="207.14" y1="440.20" x2="207.14" y2="424.30" stroke="#000" stroke-width="1.5"/>
<line x1="203.14" y1="424.30" x2="211.14" y2="424.30" stroke="#000" stroke-width="1.8"/>
<line x1="221.78" y1="434.90" x2="221.78" y2="416.90" stroke="#000" stroke-width="1.5"/>
<line x1="217.78" y1="416.90" x2="225.78" y2="416.90" stroke="#000" stroke-width="1.8"/>
<line x1="90.02" y1="476.30" x2="90.02" y2="470.00" stroke="#000" stroke-width="1.5"/>
<line x1="86.02" y1="470.00" x2="94.02" y2="470.00" stroke="#000" stroke-width="1.8"/>
<line x1="104.66" y1="467.20" x2="104.66" y2="458.10" stroke="#000" stroke-width="1.5"/>
<line x1="100.66" y1="458.10" x2="108.66" y2="458.10" stroke="#000" stroke-width="1.8"/>
<line x1="119.30" y1="455.20" x2="119.30" y2="440.80" stroke="#000" stroke-width="1.5"/>
<line x1="115.30" y1="440.80" x2="123.30" y2="440.80" stroke="#000" stroke-width="1.8"/>
<line x1="133.94" y1="440.30" x2="133.94" y2="422.80" stroke="#000" stroke-width="1.5"/>
<line x1="129.94" y1="422.80" x2="137.94" y2="422.80" stroke="#000" stroke-width="1.8"/>
<line x1="148.58" y1="423.40" x2="148.58" y2="403.10" stroke="#000" stroke-width="1.5"/>
<line x1="144.58" y1="403.10" x2="152.58" y2="403.10" stroke="#000" stroke-width="1.8"/>
<line x1="163.22" y1="408.20" x2="163.22" y2="388.50" stroke="#000" stroke-width="1.5"/>
<line x1="159.22" y1="388.50" x2="167.22" y2="388.50" stroke="#000" stroke-width="1.8"/>
<line x1="177.86" y1="385.80" x2="177.86" y2="364.30" stroke="#000" stroke-width="1.5"/>
<line x1="173.86" y1="364.30" x2="181.86" y2="364.30" stroke="#000" stroke-width="1.8"/>
<line x1="192.50" y1="367.70" x2="192.50" y2="345.80" stroke="#000" stroke-width="1.5"/>
<line x1="188.50" y1="345.80" x2="196.50" y2="345.80" stroke="#000" stroke-width="1.8"/>
<line x1="207.14" y1="342.30" x2="207.14" y2="316.90" stroke="#000" stroke-width="1.5"/>
<line x1="203.14" y1="316.90" x2="211.14" y2="316.90" stroke="#000" stroke-width="1.8"/>
<line x1="221.78" y1="331.50" x2="221.78" y2="304.20" stroke="#000" stroke-width="1.5"/>
<line x1="217.78" y1="304.20" x2="225.78" y2="304.20" stroke="#000" stroke-width="1.8"/>
<path d="M46.10,490.50 C48.54,490.15 55.86,489.00 60.74,488.40 C65.62,487.80 70.50,487.47 75.38,486.90 C80.26,486.33 85.14,486.07 90.02,485.00 C94.90,483.93 99.78,482.00 104.66,480.50 C109.54,479.00 114.42,477.60 119.30,476.00 C124.18,474.40 129.06,472.63 133.94,470.90 C138.82,469.17 143.70,467.20 148.58,465.60 C153.46,464.00 158.34,462.72 163.22,461.30 C168.10,459.88 172.98,458.50 177.86,457.10 C182.74,455.70 187.62,454.07 192.50,452.90 C197.38,451.73 202.26,450.98 207.14,450.10 C212.02,449.22 219.34,448.02 221.78,447.60" fill="none" stroke="#000" stroke-width="1.9" stroke-linejoin="round"/>
<path d="M46.10,490.50 C48.54,490.15 55.86,489.00 60.74,488.40 C65.62,487.80 70.50,487.57 75.38,486.90 C80.26,486.23 85.14,485.58 90.02,484.40 C94.90,483.22 99.78,481.33 104.66,479.80 C109.54,478.27 114.42,477.40 119.30,475.20 C124.18,473.00 129.06,469.08 133.94,466.60 C138.82,464.12 143.70,462.40 148.58,460.30 C153.46,458.20 158.34,456.12 163.22,454.00 C168.10,451.88 172.98,449.72 177.86,447.60 C182.74,445.48 187.62,442.53 192.50,441.30 C197.38,440.07 202.26,441.27 207.14,440.20 C212.02,439.13 219.34,435.78 221.78,434.90" fill="none" stroke="#000" stroke-width="1.9" stroke-linejoin="round"/>
<path d="M46.10,490.50 C47.32,490.32 58.30,489.02 60.74,488.40 C63.18,487.78 72.94,484.11 75.38,483.10 C77.82,482.09 87.58,477.62 90.02,476.30 C92.46,474.98 102.22,468.96 104.66,467.20 C107.10,465.44 116.86,457.44 119.30,455.20 C121.74,452.96 131.50,442.95 133.94,440.30 C136.38,437.65 146.14,426.07 148.58,423.40 C151.02,420.72 160.78,411.33 163.22,408.20 C165.66,405.07 175.42,389.18 177.86,385.80 C180.30,382.43 190.06,371.32 192.50,367.70 C194.94,364.07 204.70,345.32 207.14,342.30 C209.58,339.28 220.56,332.40 221.78,331.50" fill="none" stroke="#000" stroke-width="1.9" stroke-linejoin="round"/>
<path d="M46.10,486.90 L49.70,490.50 L46.10,494.10 L42.50,490.50Z" fill="#fff" stroke="#000" stroke-width="1.5"/>
<path d="M60.74,484.80 L64.34,488.40 L60.74,492.00 L57.14,488.40Z" fill="#fff" stroke="#000" stroke-width="1.5"/>
<path d="M75.38,483.30 L78.98,486.90 L75.38,490.50 L71.78,486.90Z" fill="#fff" stroke="#000" stroke-width="1.5"/>
<path d="M90.02,481.40 L93.62,485.00 L90.02,488.60 L86.42,485.00Z" fill="#fff" stroke="#000" stroke-width="1.5"/>
<path d="M104.66,476.90 L108.26,480.50 L104.66,484.10 L101.06,480.50Z" fill="#fff" stroke="#000" stroke-width="1.5"/>
<path d="M119.30,472.40 L122.90,476.00 L119.30,479.60 L115.70,476.00Z" fill="#fff" stroke="#000" stroke-width="1.5"/>
<path d="M133.94,467.30 L137.54,470.90 L133.94,474.50 L130.34,470.90Z" fill="#fff" stroke="#000" stroke-width="1.5"/>
<path d="M148.58,462.00 L152.18,465.60 L148.58,469.20 L144.98,465.60Z" fill="#fff" stroke="#000" stroke-width="1.5"/>
<path d="M163.22,457.70 L166.82,461.30 L163.22,464.90 L159.62,461.30Z" fill="#fff" stroke="#000" stroke-width="1.5"/>
<path d="M177.86,453.50 L181.46,457.10 L177.86,460.70 L174.26,457.10Z" fill="#fff" stroke="#000" stroke-width="1.5"/>
<path d="M192.50,449.30 L196.10,452.90 L192.50,456.50 L188.90,452.90Z" fill="#fff" stroke="#000" stroke-width="1.5"/>
<path d="M207.14,446.50 L210.74,450.10 L207.14,453.70 L203.54,450.10Z" fill="#fff" stroke="#000" stroke-width="1.5"/>
<path d="M221.78,444.00 L225.38,447.60 L221.78,451.20 L218.18,447.60Z" fill="#fff" stroke="#000" stroke-width="1.5"/>
<path d="M46.10,485.70 L50.60,494.34 L41.60,494.34Z" fill="#000" stroke="#000" stroke-width="0.5"/>
<path d="M60.74,483.60 L65.24,492.24 L56.24,492.24Z" fill="#000" stroke="#000" stroke-width="0.5"/>
<path d="M75.38,482.10 L79.88,490.74 L70.88,490.74Z" fill="#000" stroke="#000" stroke-width="0.5"/>
<path d="M90.02,479.60 L94.52,488.24 L85.52,488.24Z" fill="#000" stroke="#000" stroke-width="0.5"/>
<path d="M104.66,475.00 L109.16,483.64 L100.16,483.64Z" fill="#000" stroke="#000" stroke-width="0.5"/>
<path d="M119.30,470.40 L123.80,479.04 L114.80,479.04Z" fill="#000" stroke="#000" stroke-width="0.5"/>
<path d="M133.94,461.80 L138.44,470.44 L129.44,470.44Z" fill="#000" stroke="#000" stroke-width="0.5"/>
<path d="M148.58,455.50 L153.08,464.14 L144.08,464.14Z" fill="#000" stroke="#000" stroke-width="0.5"/>
<path d="M163.22,449.20 L167.72,457.84 L158.72,457.84Z" fill="#000" stroke="#000" stroke-width="0.5"/>
<path d="M177.86,442.80 L182.36,451.44 L173.36,451.44Z" fill="#000" stroke="#000" stroke-width="0.5"/>
<path d="M192.50,436.50 L197.00,445.14 L188.00,445.14Z" fill="#000" stroke="#000" stroke-width="0.5"/>
<path d="M207.14,435.40 L211.64,444.04 L202.64,444.04Z" fill="#000" stroke="#000" stroke-width="0.5"/>
<path d="M221.78,430.10 L226.28,438.74 L217.28,438.74Z" fill="#000" stroke="#000" stroke-width="0.5"/>
<circle cx="46.10" cy="490.50" r="3.5" fill="#fff" stroke="#000" stroke-width="1.6"/>
<circle cx="60.74" cy="488.40" r="3.5" fill="#fff" stroke="#000" stroke-width="1.6"/>
<circle cx="75.38" cy="483.10" r="3.5" fill="#fff" stroke="#000" stroke-width="1.6"/>
<circle cx="90.02" cy="476.30" r="3.5" fill="#fff" stroke="#000" stroke-width="1.6"/>
<circle cx="104.66" cy="467.20" r="3.5" fill="#fff" stroke="#000" stroke-width="1.6"/>
<circle cx="119.30" cy="455.20" r="3.5" fill="#fff" stroke="#000" stroke-width="1.6"/>
<circle cx="133.94" cy="440.30" r="3.5" fill="#fff" stroke="#000" stroke-width="1.6"/>
<circle cx="148.58" cy="423.40" r="3.5" fill="#fff" stroke="#000" stroke-width="1.6"/>
<circle cx="163.22" cy="408.20" r="3.5" fill="#fff" stroke="#000" stroke-width="1.6"/>
<circle cx="177.86" cy="385.80" r="3.5" fill="#fff" stroke="#000" stroke-width="1.6"/>
<circle cx="192.50" cy="367.70" r="3.5" fill="#fff" stroke="#000" stroke-width="1.6"/>
<circle cx="207.14" cy="342.30" r="3.5" fill="#fff" stroke="#000" stroke-width="1.6"/>
<circle cx="221.78" cy="331.50" r="3.5" fill="#fff" stroke="#000" stroke-width="1.6"/>
<path d="M42.1,494.5 L50.1,494.5 L50.1,489.8 L46.1,485.7 L42.1,489.8Z" fill="#000" stroke="#000" stroke-width="0.8" stroke-linejoin="round"/>
<path d="M56.7,493.4 L64.7,493.4 L64.7,488.7 L60.7,484.6 L56.7,488.7Z" fill="#000" stroke="#000" stroke-width="0.8" stroke-linejoin="round"/>
<line x1="316.9" y1="299" x2="316.9" y2="494.20000000000005" stroke="#5a5a5a" stroke-width="1.3"/>
<line x1="312.9" y1="490.6" x2="516.5" y2="490.6" stroke="#5a5a5a" stroke-width="1.3"/>
<line x1="316.90" y1="490.6" x2="316.90" y2="494.20000000000005" stroke="#5a5a5a" stroke-width="1.1"/>
<text x="316.90" y="514.2" font-size="12.7" text-anchor="middle" font-family="&apos;Liberation Sans&apos;, sans-serif" font-weight="bold" stroke="#000" stroke-width="0.35">0</text>
<line x1="347.95" y1="490.6" x2="347.95" y2="494.20000000000005" stroke="#5a5a5a" stroke-width="1.1"/>
<text x="347.95" y="514.2" font-size="12.7" text-anchor="middle" font-family="&apos;Liberation Sans&apos;, sans-serif" font-weight="bold" stroke="#000" stroke-width="0.35">10</text>
<line x1="379.00" y1="490.6" x2="379.00" y2="494.20000000000005" stroke="#5a5a5a" stroke-width="1.1"/>
<text x="379.00" y="514.2" font-size="12.7" text-anchor="middle" font-family="&apos;Liberation Sans&apos;, sans-serif" font-weight="bold" stroke="#000" stroke-width="0.35">20</text>
<line x1="410.05" y1="490.6" x2="410.05" y2="494.20000000000005" stroke="#5a5a5a" stroke-width="1.1"/>
<text x="410.05" y="514.2" font-size="12.7" text-anchor="middle" font-family="&apos;Liberation Sans&apos;, sans-serif" font-weight="bold" stroke="#000" stroke-width="0.35">30</text>
<line x1="441.10" y1="490.6" x2="441.10" y2="494.20000000000005" stroke="#5a5a5a" stroke-width="1.1"/>
<text x="441.10" y="514.2" font-size="12.7" text-anchor="middle" font-family="&apos;Liberation Sans&apos;, sans-serif" font-weight="bold" stroke="#000" stroke-width="0.35">40</text>
<line x1="472.15" y1="490.6" x2="472.15" y2="494.20000000000005" stroke="#5a5a5a" stroke-width="1.1"/>
<text x="472.15" y="514.2" font-size="12.7" text-anchor="middle" font-family="&apos;Liberation Sans&apos;, sans-serif" font-weight="bold" stroke="#000" stroke-width="0.35">50</text>
<line x1="503.20" y1="490.6" x2="503.20" y2="494.20000000000005" stroke="#5a5a5a" stroke-width="1.1"/>
<text x="503.20" y="514.2" font-size="12.7" text-anchor="middle" font-family="&apos;Liberation Sans&apos;, sans-serif" font-weight="bold" stroke="#000" stroke-width="0.35">60</text>
<line x1="312.9" y1="490.60" x2="316.9" y2="490.60" stroke="#5a5a5a" stroke-width="1.1"/>
<text x="307.7" y="495.00" font-size="12.7" text-anchor="end" font-family="&apos;Liberation Sans&apos;, sans-serif" font-weight="bold" stroke="#000" stroke-width="0.35">0</text>
<line x1="312.9" y1="461.38" x2="316.9" y2="461.38" stroke="#5a5a5a" stroke-width="1.1"/>
<text x="307.7" y="465.78" font-size="12.7" text-anchor="end" font-family="&apos;Liberation Sans&apos;, sans-serif" font-weight="bold" stroke="#000" stroke-width="0.35">3</text>
<line x1="312.9" y1="432.16" x2="316.9" y2="432.16" stroke="#5a5a5a" stroke-width="1.1"/>
<text x="307.7" y="436.56" font-size="12.7" text-anchor="end" font-family="&apos;Liberation Sans&apos;, sans-serif" font-weight="bold" stroke="#000" stroke-width="0.35">6</text>
<line x1="312.9" y1="402.94" x2="316.9" y2="402.94" stroke="#5a5a5a" stroke-width="1.1"/>
<text x="307.7" y="407.34" font-size="12.7" text-anchor="end" font-family="&apos;Liberation Sans&apos;, sans-serif" font-weight="bold" stroke="#000" stroke-width="0.35">9</text>
<line x1="312.9" y1="373.72" x2="316.9" y2="373.72" stroke="#5a5a5a" stroke-width="1.1"/>
<text x="307.7" y="378.12" font-size="12.7" text-anchor="end" font-family="&apos;Liberation Sans&apos;, sans-serif" font-weight="bold" stroke="#000" stroke-width="0.35">12</text>
<line x1="312.9" y1="344.50" x2="316.9" y2="344.50" stroke="#5a5a5a" stroke-width="1.1"/>
<text x="307.7" y="348.90" font-size="12.7" text-anchor="end" font-family="&apos;Liberation Sans&apos;, sans-serif" font-weight="bold" stroke="#000" stroke-width="0.35">15</text>
<line x1="312.9" y1="315.28" x2="316.9" y2="315.28" stroke="#5a5a5a" stroke-width="1.1"/>
<text x="307.7" y="319.68" font-size="12.7" text-anchor="end" font-family="&apos;Liberation Sans&apos;, sans-serif" font-weight="bold" stroke="#000" stroke-width="0.35">18</text>
<text x="410.25" y="531.3" font-size="13.8" text-anchor="middle" font-family="&apos;Liberation Sans&apos;, sans-serif" font-weight="bold" stroke="#000" stroke-width="0.35">Time, min</text>
<text transform="translate(280.6,491.5) rotate(-90)" font-size="14.3" font-family="&apos;Liberation Sans&apos;, sans-serif" font-weight="bold" stroke="#000" stroke-width="0.35">Total PLT accumulation/10<tspan font-size="8.9" dy="-7.2">9</tspan><tspan dy="7.2"></tspan></text>
<text x="267.5" y="295" font-size="25.5" font-family="&apos;Liberation Sans&apos;, sans-serif" font-weight="bold" stroke="#000" stroke-width="0.35">D</text>
<line x1="379.00" y1="479.70" x2="379.00" y2="475.30" stroke="#000" stroke-width="1.5"/>
<line x1="375.00" y1="475.30" x2="383.00" y2="475.30" stroke="#000" stroke-width="1.8"/>
<line x1="363.47" y1="481.50" x2="363.47" y2="486.60" stroke="#000" stroke-width="1.5"/>
<line x1="359.47" y1="486.60" x2="367.47" y2="486.60" stroke="#000" stroke-width="1.8"/>
<line x1="410.05" y1="476.80" x2="410.05" y2="473.20" stroke="#000" stroke-width="1.5"/>
<line x1="406.05" y1="473.20" x2="414.05" y2="473.20" stroke="#000" stroke-width="1.8"/>
<line x1="425.57" y1="475.60" x2="425.57" y2="471.00" stroke="#000" stroke-width="1.5"/>
<line x1="421.57" y1="471.00" x2="429.57" y2="471.00" stroke="#000" stroke-width="1.8"/>
<line x1="441.10" y1="475.10" x2="441.10" y2="469.90" stroke="#000" stroke-width="1.5"/>
<line x1="437.10" y1="469.90" x2="445.10" y2="469.90" stroke="#000" stroke-width="1.8"/>
<line x1="456.62" y1="474.20" x2="456.62" y2="467.70" stroke="#000" stroke-width="1.5"/>
<line x1="452.62" y1="467.70" x2="460.62" y2="467.70" stroke="#000" stroke-width="1.8"/>
<line x1="472.15" y1="473.80" x2="472.15" y2="466.60" stroke="#000" stroke-width="1.5"/>
<line x1="468.15" y1="466.60" x2="476.15" y2="466.60" stroke="#000" stroke-width="1.8"/>
<line x1="487.67" y1="474.20" x2="487.67" y2="467.70" stroke="#000" stroke-width="1.5"/>
<line x1="483.67" y1="467.70" x2="491.67" y2="467.70" stroke="#000" stroke-width="1.8"/>
<line x1="503.20" y1="474.20" x2="503.20" y2="467.70" stroke="#000" stroke-width="1.5"/>
<line x1="499.20" y1="467.70" x2="507.20" y2="467.70" stroke="#000" stroke-width="1.8"/>
<line x1="363.47" y1="479.20" x2="363.47" y2="475.80" stroke="#000" stroke-width="1.5"/>
<line x1="359.47" y1="475.80" x2="367.47" y2="475.80" stroke="#000" stroke-width="1.8"/>
<line x1="379.00" y1="468.40" x2="379.00" y2="464.20" stroke="#000" stroke-width="1.5"/>
<line x1="375.00" y1="464.20" x2="383.00" y2="464.20" stroke="#000" stroke-width="1.8"/>
<line x1="394.52" y1="452.70" x2="394.52" y2="446.50" stroke="#000" stroke-width="1.5"/>
<line x1="390.52" y1="446.50" x2="398.52" y2="446.50" stroke="#000" stroke-width="1.8"/>
<line x1="410.05" y1="431.90" x2="410.05" y2="419.90" stroke="#000" stroke-width="1.5"/>
<line x1="406.05" y1="419.90" x2="414.05" y2="419.90" stroke="#000" stroke-width="1.8"/>
<line x1="425.57" y1="408.60" x2="425.57" y2="395.20" stroke="#000" stroke-width="1.5"/>
<line x1="421.57" y1="395.20" x2="429.57" y2="395.20" stroke="#000" stroke-width="1.8"/>
<line x1="441.10" y1="380.90" x2="441.10" y2="362.40" stroke="#000" stroke-width="1.5"/>
<line x1="437.10" y1="362.40" x2="445.10" y2="362.40" stroke="#000" stroke-width="1.8"/>
<line x1="456.62" y1="357.30" x2="456.62" y2="338.80" stroke="#000" stroke-width="1.5"/>
<line x1="452.62" y1="338.80" x2="460.62" y2="338.80" stroke="#000" stroke-width="1.8"/>
<line x1="472.15" y1="337.70" x2="472.15" y2="317.40" stroke="#000" stroke-width="1.5"/>
<line x1="468.15" y1="317.40" x2="476.15" y2="317.40" stroke="#000" stroke-width="1.8"/>
<line x1="487.67" y1="325.00" x2="487.67" y2="305.40" stroke="#000" stroke-width="1.5"/>
<line x1="483.67" y1="305.40" x2="491.67" y2="305.40" stroke="#000" stroke-width="1.8"/>
<line x1="503.20" y1="315.80" x2="503.20" y2="296.20" stroke="#000" stroke-width="1.5"/>
<line x1="499.20" y1="296.20" x2="507.20" y2="296.20" stroke="#000" stroke-width="1.8"/>
<path d="M316.90,490.30 C319.49,490.30 327.25,490.98 332.42,490.30 C337.60,489.62 342.77,487.67 347.95,486.20 C353.12,484.73 358.30,482.58 363.47,481.50 C368.65,480.42 373.82,479.87 379.00,479.70 C384.18,479.53 389.35,480.28 394.52,480.50 C399.70,480.72 404.87,481.08 410.05,481.00 C415.22,480.92 420.40,480.17 425.57,480.00 C430.75,479.83 435.92,480.08 441.10,480.00 C446.27,479.92 451.45,479.58 456.62,479.50 C461.80,479.42 466.97,479.58 472.15,479.50 C477.32,479.42 482.50,479.25 487.67,479.00 C492.85,478.75 500.61,478.17 503.20,478.00" fill="none" stroke="#000" stroke-width="1.9" stroke-linejoin="round"/>
<path d="M316.90,490.30 C319.49,490.30 327.25,490.98 332.42,490.30 C337.60,489.62 342.77,487.67 347.95,486.20 C353.12,484.73 358.30,482.87 363.47,481.50 C368.65,480.13 373.82,478.83 379.00,478.00 C384.18,477.17 389.35,476.70 394.52,476.50 C399.70,476.30 404.87,476.95 410.05,476.80 C415.22,476.65 420.40,475.88 425.57,475.60 C430.75,475.32 435.92,475.33 441.10,475.10 C446.27,474.87 451.45,474.42 456.62,474.20 C461.80,473.98 466.97,473.80 472.15,473.80 C477.32,473.80 482.50,474.13 487.67,474.20 C492.85,474.27 500.61,474.20 503.20,474.20" fill="none" stroke="#000" stroke-width="1.9" stroke-linejoin="round"/>
<path d="M316.90,490.30 C318.19,490.30 329.84,490.64 332.42,490.30 C335.01,489.96 345.36,487.12 347.95,486.20 C350.54,485.27 360.89,480.68 363.47,479.20 C366.06,477.72 376.41,470.61 379.00,468.40 C381.59,466.19 391.94,455.74 394.52,452.70 C397.11,449.66 407.46,435.57 410.05,431.90 C412.64,428.22 422.99,412.85 425.57,408.60 C428.16,404.35 438.51,385.17 441.10,380.90 C443.69,376.62 454.04,360.90 456.62,357.30 C459.21,353.70 469.56,340.39 472.15,337.70 C474.74,335.01 485.09,326.82 487.67,325.00 C490.26,323.18 501.91,316.57 503.20,315.80" fill="none" stroke="#000" stroke-width="1.9" stroke-linejoin="round"/>
<path d="M316.90,485.50 L321.40,494.14 L312.40,494.14Z" fill="#000" stroke="#000" stroke-width="0.5"/>
<path d="M332.42,485.50 L336.92,494.14 L327.92,494.14Z" fill="#000" stroke="#000" stroke-width="0.5"/>
<path d="M347.95,481.40 L352.45,490.04 L343.45,490.04Z" fill="#000" stroke="#000" stroke-width="0.5"/>
<path d="M363.47,476.70 L367.97,485.34 L358.97,485.34Z" fill="#000" stroke="#000" stroke-width="0.5"/>
<path d="M379.00,474.90 L383.50,483.54 L374.50,483.54Z" fill="#000" stroke="#000" stroke-width="0.5"/>
<path d="M394.52,475.70 L399.02,484.34 L390.02,484.34Z" fill="#000" stroke="#000" stroke-width="0.5"/>
<path d="M410.05,476.20 L414.55,484.84 L405.55,484.84Z" fill="#000" stroke="#000" stroke-width="0.5"/>
<path d="M425.57,475.20 L430.07,483.84 L421.07,483.84Z" fill="#000" stroke="#000" stroke-width="0.5"/>
<path d="M441.10,475.20 L445.60,483.84 L436.60,483.84Z" fill="#000" stroke="#000" stroke-width="0.5"/>
<path d="M456.62,474.70 L461.12,483.34 L452.12,483.34Z" fill="#000" stroke="#000" stroke-width="0.5"/>
<path d="M472.15,474.70 L476.65,483.34 L467.65,483.34Z" fill="#000" stroke="#000" stroke-width="0.5"/>
<path d="M487.67,474.20 L492.17,482.84 L483.17,482.84Z" fill="#000" stroke="#000" stroke-width="0.5"/>
<path d="M503.20,473.20 L507.70,481.84 L498.70,481.84Z" fill="#000" stroke="#000" stroke-width="0.5"/>
<path d="M316.90,486.70 L320.50,490.30 L316.90,493.90 L313.30,490.30Z" fill="#fff" stroke="#000" stroke-width="1.5"/>
<path d="M332.42,486.70 L336.02,490.30 L332.42,493.90 L328.82,490.30Z" fill="#fff" stroke="#000" stroke-width="1.5"/>
<path d="M347.95,482.60 L351.55,486.20 L347.95,489.80 L344.35,486.20Z" fill="#fff" stroke="#000" stroke-width="1.5"/>
<path d="M363.47,477.90 L367.07,481.50 L363.47,485.10 L359.87,481.50Z" fill="#fff" stroke="#000" stroke-width="1.5"/>
<path d="M379.00,474.40 L382.60,478.00 L379.00,481.60 L375.40,478.00Z" fill="#fff" stroke="#000" stroke-width="1.5"/>
<path d="M394.52,472.90 L398.12,476.50 L394.52,480.10 L390.92,476.50Z" fill="#fff" stroke="#000" stroke-width="1.5"/>
<path d="M410.05,473.20 L413.65,476.80 L410.05,480.40 L406.45,476.80Z" fill="#fff" stroke="#000" stroke-width="1.5"/>
<path d="M425.57,472.00 L429.18,475.60 L425.57,479.20 L421.97,475.60Z" fill="#fff" stroke="#000" stroke-width="1.5"/>
<path d="M441.10,471.50 L444.70,475.10 L441.10,478.70 L437.50,475.10Z" fill="#fff" stroke="#000" stroke-width="1.5"/>
<path d="M456.62,470.60 L460.23,474.20 L456.62,477.80 L453.02,474.20Z" fill="#fff" stroke="#000" stroke-width="1.5"/>
<path d="M472.15,470.20 L475.75,473.80 L472.15,477.40 L468.55,473.80Z" fill="#fff" stroke="#000" stroke-width="1.5"/>
<path d="M487.67,470.60 L491.27,474.20 L487.67,477.80 L484.07,474.20Z" fill="#fff" stroke="#000" stroke-width="1.5"/>
<path d="M503.20,470.60 L506.80,474.20 L503.20,477.80 L499.60,474.20Z" fill="#fff" stroke="#000" stroke-width="1.5"/>
<circle cx="316.90" cy="490.30" r="3.5" fill="#fff" stroke="#000" stroke-width="1.6"/>
<circle cx="332.42" cy="490.30" r="3.5" fill="#fff" stroke="#000" stroke-width="1.6"/>
<circle cx="347.95" cy="486.20" r="3.5" fill="#fff" stroke="#000" stroke-width="1.6"/>
<circle cx="363.47" cy="479.20" r="3.5" fill="#fff" stroke="#000" stroke-width="1.6"/>
<circle cx="379.00" cy="468.40" r="3.5" fill="#fff" stroke="#000" stroke-width="1.6"/>
<circle cx="394.52" cy="452.70" r="3.5" fill="#fff" stroke="#000" stroke-width="1.6"/>
<circle cx="410.05" cy="431.90" r="3.5" fill="#fff" stroke="#000" stroke-width="1.6"/>
<circle cx="425.57" cy="408.60" r="3.5" fill="#fff" stroke="#000" stroke-width="1.6"/>
<circle cx="441.10" cy="380.90" r="3.5" fill="#fff" stroke="#000" stroke-width="1.6"/>
<circle cx="456.62" cy="357.30" r="3.5" fill="#fff" stroke="#000" stroke-width="1.6"/>
<circle cx="472.15" cy="337.70" r="3.5" fill="#fff" stroke="#000" stroke-width="1.6"/>
<circle cx="487.67" cy="325.00" r="3.5" fill="#fff" stroke="#000" stroke-width="1.6"/>
<circle cx="503.20" cy="315.80" r="3.5" fill="#fff" stroke="#000" stroke-width="1.6"/>
<path d="M312.9,494.2 L320.9,494.2 L320.9,489.5 L316.9,485.4 L312.9,489.5Z" fill="#000" stroke="#000" stroke-width="0.8" stroke-linejoin="round"/>
<path d="M328.4,494.2 L336.4,494.2 L336.4,489.5 L332.4,485.4 L328.4,489.5Z" fill="#000" stroke="#000" stroke-width="0.8" stroke-linejoin="round"/>
<circle cx="347.9" cy="486.2" r="4.3" fill="#000"/>
</svg></body></html>
